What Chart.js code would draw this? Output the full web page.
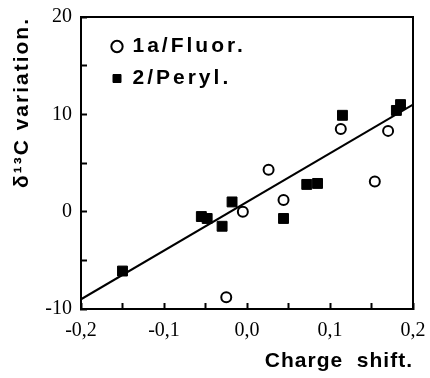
<!DOCTYPE html>
<html>
<head>
<meta charset="utf-8">
<script src="https://cdn.jsdelivr.net/npm/chart.js@4.4.0/dist/chart.umd.min.js"></script>
<style>
html, body { margin: 0; padding: 0; background: #fff; }
</style>
</head>
<body>
<canvas id="myChart" width="430" height="378"></canvas>
<script>
// series 1a/Fluor. (open circles)
var fluorX = [-0.025, -0.005, 0.026, 0.044, 0.113, 0.154, 0.170];
var fluorY = [-8.8, 0.0, 4.3, 1.2, 8.5, 3.1, 8.3];
// series 2/Peryl. (filled squares)
var perylX = [-0.150, -0.055, -0.048, -0.030, -0.018, 0.044, 0.072, 0.085, 0.115, 0.180, 0.185];
var perylY = [-6.1, -0.5, -0.7, -1.5, 1.0, -0.7, 2.8, 2.9, 9.9, 10.4, 11.0];
// regression line end points
var fitX = [-0.2, 0.2];
var fitY = [-9, 11];

var seriesLabels = ["1a/Fluor.", "2/Peryl."];
var xTicks = [-0.2, -0.15, -0.1, -0.05, 0, 0.05, 0.1, 0.15, 0.2];
var xTickLabels = ["-0,2", "", "-0,1", "", "0,0", "", "0,1", "", "0,2"];
var yTicks = [-10, -5, 0, 5, 10, 15, 20];
var yTickLabels = ["-10", "", "0", "", "10", "", "20"];
var xTitle = "Charge  shift.";
var yTitle = "\u03b4\u00b9\u00b3C variation.";

function pts(xs, ys) {
    var out = [];
    for (var i = 0; i < xs.length; i++) {
        out.push({x: xs[i], y: ys[i]});
    }
    return out;
}

var serif = '"Liberation Serif", "Times New Roman", serif';
var sans = '"Liberation Sans", Arial, sans-serif';

// draw something with spaced letters (old typewriter look of the figure)
function spaced(obj, name, ctx, sp) {
    if (!obj || obj['_sp_' + name]) return;
    var orig = obj[name];
    obj[name] = function() {
        ctx.letterSpacing = sp;
        orig.apply(obj, arguments);
        ctx.letterSpacing = '0px';
    };
    obj['_sp_' + name] = true;
}

// legend sits inside the plot, top left
var legendPlace = {
    id: 'legendPlace',
    afterLayout: function(chart) {
        var lg = chart.legend;
        if (lg) {
            lg.left = chart.chartArea.left + 20;
            lg.top = chart.chartArea.top + 8;
            spaced(lg, 'draw', chart.ctx, '3px');
        }
        spaced(chart.scales.x, 'drawTitle', chart.ctx, '1px');
        spaced(chart.scales.y, 'drawTitle', chart.ctx, '2px');
    }
};

function noPad(s) {
    s.paddingLeft = 0; s.paddingRight = 0;
    s.paddingTop = 0; s.paddingBottom = 0;
}

var ctx = document.getElementById('myChart').getContext('2d');
var chart = new Chart(ctx, {
    type: 'scatter',
    data: {
        datasets: [{
            label: seriesLabels[0],
            data: pts(fluorX, fluorY),
            pointStyle: 'circle',
            pointRadius: 5,
            backgroundColor: '#fff',
            borderColor: '#000',
            borderWidth: 2
        }, {
            label: seriesLabels[1],
            data: pts(perylX, perylY),
            pointStyle: 'rect',
            pointRadius: 7,
            backgroundColor: '#000',
            borderColor: '#000',
            borderWidth: 1
        }, {
            label: 'fit',
            data: pts(fitX, fitY),
            showLine: true,
            pointRadius: 0,
            borderColor: '#000',
            borderWidth: 2,
            fill: false
        }]
    },
    options: {
        responsive: false,
        animation: false,
        layout: {padding: {left: 0, right: 17, top: 17, bottom: 0}},
        scales: {
            x: {
                type: 'linear', position: 'bottom', min: -0.2, max: 0.2,
                afterBuildTicks: function(s) { s.ticks = xTicks.map(function(v) { return {value: v}; }); },
                afterFit: function(s) { s.height = 69; noPad(s); },
                grid: {drawOnChartArea: false, tickLength: -6, tickColor: '#000', tickWidth: 2},
                border: {display: true, color: '#000', width: 2},
                ticks: {
                    color: '#000', padding: 16, maxRotation: 0, autoSkip: false,
                    font: {family: serif, size: 20},
                    callback: function(v, i) { return xTickLabels[i]; }
                },
                title: {
                    display: true, text: xTitle, align: 'end', color: '#000',
                    font: {family: sans, weight: 'bold', size: 21},
                    padding: {top: 0, bottom: 4}
                }
            },
            y: {
                type: 'linear', position: 'left', min: -10, max: 20,
                afterBuildTicks: function(s) { s.ticks = yTicks.map(function(v) { return {value: v}; }); },
                afterFit: function(s) { s.width = 81; noPad(s); },
                grid: {drawOnChartArea: false, tickLength: -6, tickColor: '#000', tickWidth: 2},
                border: {display: true, color: '#000', width: 2},
                ticks: {
                    color: '#000', padding: 15, autoSkip: false,
                    font: {family: serif, size: 20},
                    callback: function(v, i) { return yTickLabels[i]; }
                },
                title: {
                    display: true, text: yTitle, align: 'end', color: '#000',
                    font: {family: sans, weight: 'bold', size: 21},
                    padding: {top: 10, bottom: 0}
                }
            },
            x2: {
                type: 'linear', position: 'top', min: -0.2, max: 0.2,
                afterFit: function(s) { s.height = 0; noPad(s); },
                grid: {drawOnChartArea: false, drawTicks: false},
                border: {display: true, color: '#000', width: 2},
                ticks: {display: false}
            },
            y2: {
                type: 'linear', position: 'right', min: -10, max: 20,
                afterFit: function(s) { s.width = 0; noPad(s); },
                grid: {drawOnChartArea: false, drawTicks: false},
                border: {display: true, color: '#000', width: 2},
                ticks: {display: false}
            }
        },
        plugins: {
            tooltip: {enabled: false},
            legend: {
                position: 'chartArea',
                align: 'start',
                labels: {
                    usePointStyle: true,
                    boxWidth: 10,
                    boxHeight: 8,
                    padding: 11,
                    color: '#000',
                    font: {family: sans, weight: 'bold', size: 21},
                    filter: function(item) { return item.datasetIndex < 2; }
                }
            }
        }
    },
    plugins: [legendPlace]
});
</script>
</body>
</html>
